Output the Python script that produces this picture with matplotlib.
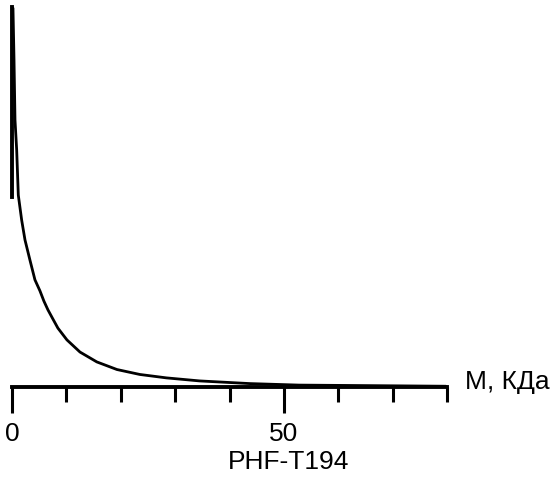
import numpy as np
import matplotlib
matplotlib.use('Agg')
import matplotlib.pyplot as plt
from matplotlib.ticker import MultipleLocator

plt.rcParams['font.family'] = ['Liberation Sans', 'DejaVu Sans']

# curve (M in kDa, arbitrary units)
mass = [0.18, 0.37, 0.55, 0.86, 1.16, 1.78, 2.39, 3.30, 4.22, 5.14, 5.87, 6.61,
        7.52, 8.44, 10.1, 12.5, 15.6, 19.3, 23.5, 28.4, 34.5, 43.7, 52.8, 62.0,
        71.2, 79.8]
signal = [99.7, 86.1, 70.3, 62.4, 50.5, 43.9, 38.7, 33.4, 28.2, 25.3, 22.6, 20.3,
          17.9, 15.5, 12.4, 9.2, 6.6, 4.6, 3.3, 2.4, 1.6, 0.9, 0.5, 0.4,
          0.3, 0.2]
major_ticks = [0, 50]
xlab = 'PHF-T194'
unit_lab = 'M, КДа'

fig = plt.figure(figsize=(5.56, 4.84), dpi=100)
ax = fig.add_axes([12/556, 1-387/484, 435/556, 380/484])
ax.plot(mass, signal, color='black', lw=2.0, solid_joinstyle='round',
        solid_capstyle='round')

ax.set_xlim(0, 80)
ax.set_ylim(0, 100)

ax.spines['top'].set_visible(False)
ax.spines['right'].set_visible(False)
ax.spines['bottom'].set_linewidth(2.8)
ax.spines['left'].set_linewidth(2.8)
ax.spines['left'].set_bounds(50, 100)
ax.spines['bottom'].set_bounds(0, 80)

ax.set_yticks([])
ax.set_xticks(major_ticks)
ax.xaxis.set_minor_locator(MultipleLocator(10))
ax.tick_params(axis='x', which='major', length=19, width=2.2, direction='out',
               labelsize=19, pad=6)
ax.tick_params(axis='x', which='minor', length=11, width=2.2, direction='out')

ax.text(0.635, -0.197, xlab, transform=ax.transAxes, ha='center', va='center',
        fontsize=19)
ax.text(1.041, 0.012, unit_lab, transform=ax.transAxes, ha='left', va='center',
        fontsize=19)

fig.savefig('out.png', dpi=100)
